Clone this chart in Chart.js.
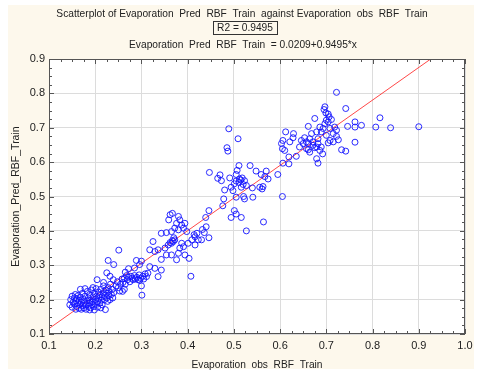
<!DOCTYPE html>
<html>
<head>
<meta charset="utf-8">
<script src="https://cdn.jsdelivr.net/npm/chart.js@4.4.0/dist/chart.umd.min.js"></script>
<style>
  html, body { margin: 0; padding: 0; background: #ffffff; }
  canvas { display: block; }
</style>
</head>
<body>
<canvas id="chartScatter" width="480" height="377"></canvas>
<script>
// observed (x) vs predicted (y) evaporation, RBF train set
const lowCluster = [
  [0.145,0.185],[0.147,0.200],[0.150,0.210],[0.150,0.178],[0.152,0.192],[0.155,0.205],[0.155,0.187],
  [0.157,0.215],[0.158,0.196],[0.158,0.172],[0.160,0.180],[0.160,0.203],[0.162,0.190],[0.163,0.212],
  [0.165,0.175],[0.165,0.198],[0.167,0.186],[0.168,0.207],[0.168,0.230],[0.170,0.172],[0.170,0.193],
  [0.172,0.218],[0.173,0.182],[0.175,0.200],[0.175,0.176],[0.177,0.190],[0.178,0.210],[0.178,0.232],
  [0.180,0.185],[0.180,0.172],[0.182,0.197],[0.183,0.224],[0.185,0.180],[0.185,0.205],[0.187,0.190],
  [0.188,0.215],[0.188,0.170],[0.190,0.176],[0.190,0.198],[0.192,0.228],[0.193,0.186],[0.195,0.208],
  [0.195,0.194],[0.195,0.235],[0.197,0.180],[0.198,0.218],[0.198,0.170],[0.200,0.200],[0.200,0.188],
  [0.202,0.232],[0.203,0.210],[0.204,0.258],[0.205,0.195],[0.205,0.178],[0.207,0.222],[0.208,0.203],
  [0.210,0.190],[0.210,0.214],[0.212,0.230],[0.212,0.176],[0.213,0.198],[0.215,0.208],[0.215,0.185],
  [0.217,0.220],[0.218,0.240],[0.218,0.250],[0.220,0.200],[0.220,0.212],[0.222,0.171],[0.223,0.228],
  [0.225,0.205],[0.225,0.218],[0.225,0.278],[0.227,0.195],[0.228,0.235],[0.228,0.314],[0.230,0.212],
  [0.230,0.224],[0.232,0.200],[0.232,0.268],[0.233,0.245],[0.235,0.215],[0.237,0.230],[0.238,0.205],
  [0.239,0.258],[0.240,0.220],[0.240,0.302],[0.245,0.240],[0.248,0.252],[0.250,0.235],[0.251,0.344]
];
const midCluster = [
  [0.253,0.225],[0.255,0.245],[0.258,0.260],[0.259,0.224],[0.260,0.250],[0.263,0.230],[0.263,0.262],
  [0.265,0.245],[0.265,0.280],[0.268,0.270],[0.270,0.258],[0.272,0.265],[0.272,0.290],[0.275,0.252],
  [0.277,0.268],[0.280,0.262],[0.282,0.258],[0.285,0.270],[0.285,0.292],[0.287,0.260],[0.289,0.314],
  [0.290,0.265],[0.293,0.258],[0.295,0.272],[0.296,0.302],[0.296,0.256],[0.298,0.262],[0.300,0.312],
  [0.300,0.240],[0.301,0.213],[0.303,0.268],[0.305,0.260],[0.308,0.275],[0.311,0.267],[0.314,0.277],
  [0.318,0.296],[0.318,0.345],[0.325,0.369],[0.329,0.291],[0.329,0.340],[0.336,0.267],[0.336,0.345],
  [0.343,0.286],[0.343,0.317],[0.343,0.393],[0.351,0.350],[0.354,0.330],[0.354,0.395],[0.358,0.359],
  [0.359,0.432],[0.362,0.447],[0.362,0.366],[0.365,0.330],[0.365,0.364],[0.365,0.398],[0.367,0.451],
  [0.367,0.372],[0.369,0.369],[0.370,0.380],[0.372,0.374],[0.372,0.408],[0.376,0.316],[0.376,0.422],
  [0.380,0.335],[0.380,0.403],[0.380,0.442],[0.383,0.350],[0.383,0.432],[0.387,0.364],[0.387,0.417],
  [0.391,0.354],[0.391,0.408],[0.394,0.330],[0.394,0.422],[0.398,0.398],[0.401,0.364],[0.403,0.320],
  [0.407,0.268],[0.409,0.374],[0.414,0.389],[0.416,0.359],[0.416,0.383],[0.420,0.393],[0.423,0.374],
  [0.430,0.374],[0.432,0.404]
];
const upperCluster = [
  [0.436,0.395],[0.439,0.439],[0.440,0.412],[0.446,0.380],[0.446,0.459],[0.447,0.570],[0.465,0.553],
  [0.470,0.563],[0.473,0.546],[0.476,0.473],[0.478,0.493],[0.480,0.519],[0.485,0.642],[0.487,0.632],
  [0.489,0.697],[0.491,0.554],[0.494,0.527],[0.494,0.439],[0.498,0.517],[0.501,0.537],[0.501,0.459],
  [0.505,0.564],[0.505,0.545],[0.505,0.498],[0.505,0.449],[0.507,0.576],[0.509,0.668],[0.511,0.590],
  [0.511,0.541],[0.512,0.551],[0.515,0.548],[0.516,0.527],[0.516,0.439],[0.518,0.554],[0.520,0.535],
  [0.521,0.500],[0.523,0.546],[0.523,0.493],[0.527,0.532],[0.527,0.400],[0.535,0.590],[0.540,0.525],
  [0.541,0.498],[0.548,0.574],[0.556,0.527],[0.559,0.564],[0.561,0.522],[0.563,0.529],[0.564,0.426],
  [0.567,0.558],[0.570,0.574],[0.574,0.551]
];
const topCluster = [
  [0.595,0.564],[0.603,0.654],[0.605,0.639],[0.605,0.500],[0.606,0.663],[0.606,0.597],[0.610,0.634],
  [0.612,0.688],[0.619,0.615],[0.619,0.595],[0.621,0.659],[0.628,0.671],[0.629,0.683],[0.635,0.617],
  [0.642,0.644],[0.646,0.663],[0.650,0.654],[0.653,0.671],[0.657,0.659],[0.657,0.639],[0.661,0.704],
  [0.661,0.654],[0.661,0.636],[0.664,0.668],[0.664,0.629],[0.668,0.683],[0.671,0.659],[0.671,0.649],
  [0.675,0.727],[0.675,0.642],[0.679,0.688],[0.679,0.644],[0.679,0.610],[0.682,0.654],[0.682,0.668],
  [0.682,0.597],[0.686,0.702],[0.686,0.634],[0.689,0.688],[0.689,0.644],[0.692,0.624],[0.693,0.698],
  [0.695,0.753],[0.697,0.761],[0.697,0.712],[0.699,0.743],[0.700,0.722],[0.700,0.678],[0.704,0.740],
  [0.704,0.717],[0.704,0.656],[0.706,0.732],[0.708,0.698],[0.708,0.663],[0.711,0.724],[0.715,0.683],
  [0.715,0.659],[0.718,0.702],[0.722,0.803],[0.722,0.693],[0.722,0.675],[0.726,0.665],[0.733,0.636],
  [0.742,0.756],[0.742,0.632],[0.746,0.704],[0.762,0.717],[0.762,0.702],[0.762,0.658],[0.776,0.707],
  [0.807,0.702],[0.816,0.729],[0.839,0.700],[0.900,0.703]
];

// fitted line: pred = 0.0209 + 0.9495 * obs
const intercept = 0.0209;
const slope = 0.9495;
const r2 = "0.9495";
const xRange = [0.1, 1.0];
const yRange = [0.1, 0.9];

const titleLines = [
  "Scatterplot of Evaporation  Pred  RBF  Train  against Evaporation  obs  RBF  Train",
  "R2 = " + r2,
  "Evaporation  Pred  RBF  Train  = 0.0209+0.9495*x"
];

const points = lowCluster.concat(midCluster, upperCluster, topCluster).map(p => ({ x: p[0], y: p[1] }));
const lineEnd = (yRange[1] - intercept) / slope;
const fitLine = [
  { x: xRange[0], y: intercept + slope * xRange[0] },
  { x: lineEnd, y: yRange[1] }
];

const FONT = '"Liberation Sans", Arial, sans-serif';

const framePlugin = {
  id: "frame",
  beforeDraw(chart) {
    const ctx = chart.ctx;
    const a = chart.chartArea;
    ctx.save();
    ctx.fillStyle = "#fdf8ec";
    ctx.fillRect(8, 5, 466, 364);
    ctx.fillStyle = "#ffffff";
    ctx.fillRect(a.left, a.top, a.right - a.left, a.bottom - a.top);
    ctx.restore();
  },
  afterDraw(chart) {
    const ctx = chart.ctx;
    const a = chart.chartArea;
    const sx = chart.scales.x;
    const sy = chart.scales.y;
    ctx.save();
    // frame
    ctx.strokeStyle = "#555555";
    ctx.lineWidth = 1;
    ctx.strokeRect(Math.round(a.left) + 0.5, Math.round(a.top) + 0.5,
      Math.round(a.right - a.left) - 1, Math.round(a.bottom - a.top) - 1);
    // inner tick marks on all four sides
    ctx.beginPath();
    for (let i = 0; i <= 36; i++) {
      const v = xRange[0] + i * 0.025;
      const px = Math.round(sx.getPixelForValue(v)) + 0.5;
      const len = i % 4 === 0 ? 5 : 3;
      ctx.moveTo(px, a.bottom); ctx.lineTo(px, a.bottom - len);
      ctx.moveTo(px, a.top); ctx.lineTo(px, a.top + len);
    }
    for (let i = 0; i <= 32; i++) {
      const v = yRange[0] + i * 0.025;
      const py = Math.round(sy.getPixelForValue(v)) + 0.5;
      const len = i % 4 === 0 ? 5 : 3;
      ctx.moveTo(a.left, py); ctx.lineTo(a.left + len, py);
      ctx.moveTo(a.right, py); ctx.lineTo(a.right - len, py);
    }
    ctx.stroke();
    // titles
    ctx.fillStyle = "#222222";
    ctx.font = "10.2px " + FONT;
    ctx.textAlign = "center";
    ctx.textBaseline = "middle";
    ctx.fillText(titleLines[0], 242, 14);
    ctx.fillText(titleLines[1], 245, 28);
    const w = ctx.measureText(titleLines[1]).width;
    ctx.strokeStyle = "#333333";
    ctx.strokeRect(Math.round(245 - w / 2 - 4) + 0.5, 21.5, Math.round(w + 8), 13);
    ctx.fillText(titleLines[2], 243, 45);
    ctx.restore();
  }
};

const configScatter = {
  type: "scatter",
  data: {
    datasets: [
      {
        data: points,
        showLine: false,
        pointRadius: 3,
        pointHoverRadius: 3,
        pointBorderWidth: 1,
        pointBorderColor: "rgba(20, 20, 255, 0.9)",
        pointBackgroundColor: "rgba(0, 0, 0, 0)",
      },
      {
        data: fitLine,
        showLine: true,
        pointRadius: 0,
        borderWidth: 1,
        borderColor: "rgba(255, 40, 40, 0.85)",
        fill: false,
      },
    ],
  },
  options: {
    responsive: false,
    animation: false,
    layout: { padding: { top: 59, right: 15, left: 0, bottom: 0 } },
    plugins: {
      legend: { display: false },
      tooltip: { enabled: false },
    },
    scales: {
      x: {
        type: "linear",
        min: xRange[0],
        max: xRange[1],
        afterFit: (s) => { s.height = 43; },
        ticks: {
          stepSize: 0.1,
          padding: 5,
          color: "#222222",
          font: { family: FONT, size: 11 },
          callback: (v) => Number(v).toFixed(1),
        },
        grid: { color: "#dcdcdc", drawTicks: false },
        border: { display: false },
        title: {
          display: true,
          text: "Evaporation  obs  RBF  Train",
          color: "#222222",
          font: { family: FONT, size: 10.2 },
          padding: { top: 4, bottom: 6 },
        },
      },
      y: {
        type: "linear",
        min: yRange[0],
        max: yRange[1],
        afterFit: (s) => { s.width = 49; },
        ticks: {
          stepSize: 0.1,
          padding: 4,
          color: "#222222",
          font: { family: FONT, size: 11 },
          callback: (v) => Number(v).toFixed(1),
        },
        grid: { color: "#dcdcdc", drawTicks: false },
        border: { display: false },
        title: {
          display: true,
          text: "Evaporation_Pred_RBF_Train",
          color: "#222222",
          font: { family: FONT, size: 10.5 },
          padding: { top: 10, bottom: 4 },
        },
      },
    },
  },
  plugins: [framePlugin],
};

var chartScatter = new Chart(document.getElementById("chartScatter"), configScatter);
</script>
</body>
</html>
